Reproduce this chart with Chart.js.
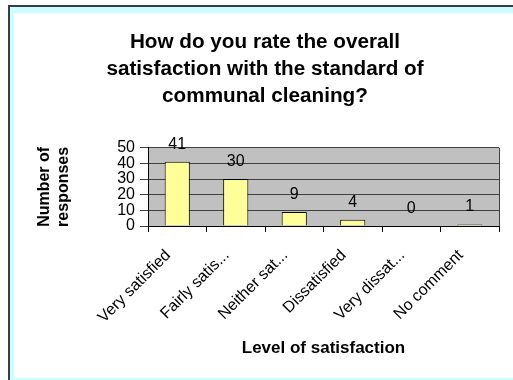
<!DOCTYPE html>
<html>
<head>
<meta charset="utf-8">
<script src="https://cdn.jsdelivr.net/npm/chart.js@4/dist/chart.umd.min.js"></script>
<style>
  html, body { margin: 0; padding: 0; background: #ffffff; }
  body { width: 513px; height: 380px; position: relative; overflow: hidden; }
  #frame { position: absolute; left: 8px; top: 5px; right: 0; bottom: 0;
           border-top: 2px solid #3c3c3c; border-left: 2px solid #3c3c3c; background: #ccffff; }
  #inner { position: absolute; left: 14px; top: 13px; right: 0; bottom: 2px; background: #ffffff; }
  #c { position: absolute; left: 0; top: 0; }
</style>
</head>
<body>
<div id="frame"></div>
<div id="inner"></div>
<canvas id="c" width="513" height="380"></canvas>
<script>
const titleLines = ["How do you rate the overall", "satisfaction with the standard of", "communal cleaning?"];
const categories = ["Very satisfied", "Fairly satis...", "Neither sat...", "Dissatisfied", "Very dissat...", "No comment"];
const responses = [41, 30, 9, 4, 0, 1];
const yAxisTitle = ["Number of", "responses"];
const xAxisTitle = "Level of satisfaction";
const yMin = 0, yMax = 50, yStep = 10;

const FONT = "'Liberation Sans', Arial, sans-serif";

const plotBg = {
  id: 'plotBg',
  beforeDraw(chart) {
    const {ctx, chartArea: a} = chart;
    ctx.save();
    ctx.fillStyle = '#c0c0c0';
    ctx.fillRect(a.left, a.top, a.right - a.left, a.bottom - a.top);
    ctx.restore();
  },
  afterDraw(chart) {
    const {ctx, chartArea: a} = chart;
    ctx.save();
    ctx.strokeStyle = '#404040';
    ctx.lineWidth = 1;
    ctx.beginPath();
    ctx.moveTo(a.right + 0.5, a.top);
    ctx.lineTo(a.right + 0.5, a.bottom);
    ctx.stroke();
    ctx.restore();
  }
};

const valueLabels = {
  id: 'valueLabels',
  afterDatasetsDraw(chart) {
    const {ctx} = chart;
    const meta = chart.getDatasetMeta(0);
    ctx.save();
    ctx.font = "16px " + FONT;
    ctx.fillStyle = '#000';
    ctx.textAlign = 'center';
    ctx.textBaseline = 'alphabetic';
    meta.data.forEach((bar, i) => {
      ctx.fillText(String(chart.data.datasets[0].data[i]), bar.x, bar.y - 13);
    });
    ctx.restore();
  }
};

new Chart(document.getElementById('c'), {
  type: 'bar',
  data: {
    labels: categories,
    datasets: [{
      data: responses,
      backgroundColor: '#ffff99',
      borderColor: '#000000',
      borderWidth: 1,
      categoryPercentage: 1,
      barPercentage: 0.43
    }]
  },
  options: {
    responsive: false,
    animation: false,
    devicePixelRatio: 1,
    layout: { padding: { left: 31, right: 14, top: 0, bottom: 20 } },
    plugins: {
      legend: { display: false },
      tooltip: { enabled: false },
      title: {
        display: true,
        text: titleLines,
        color: '#000',
        font: { family: FONT, size: 20.7, weight: 'bold', lineHeight: 1.3 },
        padding: { top: 29, bottom: 38 }
      }
    },
    scales: {
      x: {
        grid: { display: true, drawOnChartArea: false, drawTicks: true, tickLength: 6, offset: true, color: '#000' },
        border: { display: true, color: '#000', width: 1 },
        ticks: { color: '#000', font: { family: FONT, size: 16 }, minRotation: 45, maxRotation: 45,
                 padding: 14, labelOffset: -9, autoSkip: false },
        title: { display: true, text: xAxisTitle, color: '#000',
                 font: { family: FONT, size: 17, weight: 'bold', lineHeight: 1.2 }, padding: { top: 0, bottom: 1 } },
        afterFit(scale) { scale.height = 134; }
      },
      y: {
        min: yMin, max: yMax,
        grid: { color: '#404040', lineWidth: 1, tickLength: 8, drawTicks: true },
        border: { display: true, color: '#000', width: 1 },
        ticks: { stepSize: yStep, color: '#000', font: { family: FONT, size: 16 }, padding: 5, autoSkip: false },
        title: { display: true, text: yAxisTitle, color: '#000',
                 font: { family: FONT, size: 16, weight: 'bold', lineHeight: 1.2 }, padding: { top: 4, bottom: 0 } },
        afterFit(scale) { scale.width = 117; }
      }
    }
  },
  plugins: [plotBg, valueLabels]
});
</script>
</body>
</html>
